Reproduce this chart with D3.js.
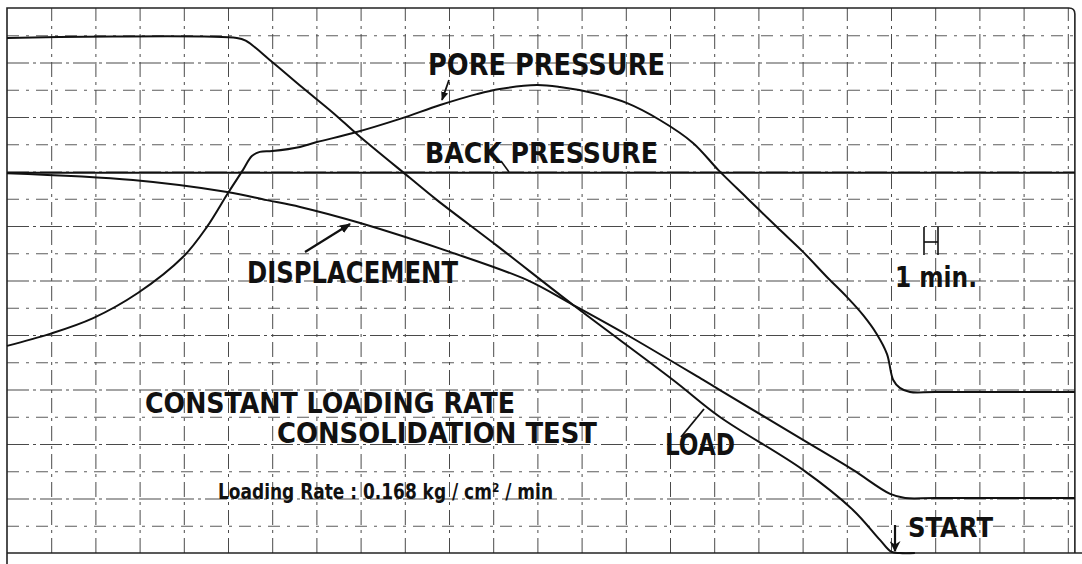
<!DOCTYPE html>
<html>
<head>
<meta charset="utf-8">
<script src="https://cdn.jsdelivr.net/npm/d3@7"></script>
<style>
  html, body { margin: 0; padding: 0; background: #fff; }
  svg { display: block; }
</style>
</head>
<body>
<svg id="chart" width="1082" height="564"></svg>
<script>
// Chart-paper divisions: x = horizontal division (0 = left edge), y = vertical division (0 = bottom edge)
const gridXTicks = d3.range(0, 25);
const gridYTicks = d3.range(0, 21);

const loadData = [
  [0, 18.90], [5.20, 18.90], [5.40, 18.80], [6.00, 18.02], [6.67, 17.10], [7.38, 16.15], [7.94, 15.34],
  [9.12, 13.76], [9.73, 12.95], [11.09, 11.27], [12.81, 9.10], [15.07, 6.35], [16.13, 4.99],
  [18.01, 3.05], [19.14, 1.58], [19.75, 0.48], [20.00, 0.05], [20.20, 0], [20.54, 0]
];

const displacementData = [
  [0, 13.94], [2.85, 13.69], [4.98, 13.25], [5.88, 12.95], [6.63, 12.70], [7.99, 12.11],
  [10.02, 11.05], [11.76, 10.02], [12.81, 9.10], [14.03, 8.00], [15.75, 6.35], [16.13, 5.98],
  [18.01, 4.15], [19.14, 3.05], [19.98, 2.17], [20.32, 2.02], [21.00, 2.02], [24.16, 2.02]
];

const porePressureData = [
  [0, 7.60], [0.97, 8.04], [1.95, 8.62], [2.96, 9.54], [3.98, 10.86], [4.52, 11.96],
  [5.00, 13.21], [5.34, 14.06], [5.54, 14.57], [5.72, 14.72], [6.00, 14.75], [6.63, 14.90],
  [7.01, 15.08], [7.83, 15.41], [8.89, 15.93], [9.80, 16.44], [10.63, 16.84], [11.15, 17.03],
  [11.99, 17.17], [12.51, 17.10], [13.26, 16.88], [14.03, 16.51], [14.77, 15.89], [15.52, 15.05],
  [16.09, 14.06], [16.74, 13.03], [17.42, 11.96], [18.01, 11.05], [18.55, 10.13], [19.00, 9.40],
  [19.37, 8.73], [19.68, 8.03], [19.91, 7.30], [20.05, 6.35], [20.20, 6.06], [20.43, 5.91],
  [21.00, 5.91], [24.16, 5.91]
];

const backPressureData = [[0, 13.95], [24.16, 13.95]];

const seriesNames = ["LOAD", "DISPLACEMENT", "PORE PRESSURE", "BACK PRESSURE"];

const svg = d3.select("#chart");
const pLeft = 7, pTop = 8, pRight = 1075, pBottom = 553;

const x = d3.scaleLinear().domain([0, 24]).range([pLeft, pLeft + 44.2 * 24]);
const y = d3.scaleLinear().domain([0, 20]).range([pBottom, pTop]);

// grid
const gV = svg.append("g").attr("transform", `translate(0,${pBottom})`)
  .call(d3.axisBottom(x).tickValues(gridXTicks.slice(1)).tickSize(-(pBottom - pTop)).tickFormat(""));
gV.select(".domain").remove();
gV.selectAll(".tick line")
  .attr("stroke", "#4a4a4a").attr("stroke-width", 1)
  .attr("stroke-dasharray", "15,5,3,5");

const gH = svg.append("g").attr("transform", `translate(${pLeft},0)`)
  .call(d3.axisLeft(y).tickValues(gridYTicks.slice(1, -1)).tickSize(-(pRight - pLeft)).tickFormat(""));
gH.select(".domain").remove();
gH.selectAll(".tick line")
  .attr("stroke", "#4a4a4a").attr("stroke-width", d => (d % 2 === 0 ? 1.2 : 0.9))
  .attr("stroke-dasharray", d => (d % 2 === 0 ? "22,4,3,4" : "12,7,3,7"));

// border
const bx = x(24.16);
svg.append("path")
  .attr("d", `M${pLeft},564 L${pLeft},${pTop} L${bx - 6},${pTop} Q${bx},${pTop} ${bx},${pTop + 6} L${bx},${pBottom}`)
  .attr("fill", "none").attr("stroke", "#222").attr("stroke-width", 1.6);
svg.append("line").attr("x1", pLeft).attr("x2", 1082).attr("y1", pBottom).attr("y2", pBottom)
  .attr("stroke", "#222").attr("stroke-width", 1.6);

// curves
const line = d3.line().x(d => x(d[0])).y(d => y(d[1])).curve(d3.curveCatmullRom.alpha(0.5));
[loadData, displacementData, porePressureData, backPressureData].forEach((data, i) => {
  svg.append("path").datum(data)
    .attr("class", "series")
    .attr("data-name", seriesNames[i])
    .attr("d", line)
    .attr("fill", "none")
    .attr("stroke", "#111")
    .attr("stroke-width", 2)
    .attr("stroke-linejoin", "round");
});

// labels
const font = "'DejaVu Sans Condensed', 'DejaVu Sans', sans-serif";
function label(txt, px, py, size, len, weight) {
  return svg.append("text")
    .attr("x", px).attr("y", py)
    .attr("font-family", font)
    .attr("font-size", size)
    .attr("font-weight", weight || "bold")
    .attr("fill", "#111")
    .attr("textLength", len)
    .attr("lengthAdjust", "spacingAndGlyphs")
    .text(txt);
}
label("PORE PRESSURE", 428, 75, 30, 237);
label("BACK PRESSURE", 425, 163, 29, 233);
label("DISPLACEMENT", 247, 283, 30, 211);
label("1 min.", 895, 287, 29, 82);
label("CONSTANT LOADING RATE", 145, 413, 29, 370);
label("CONSOLIDATION TEST", 277, 443, 29, 320);
label("LOAD", 665, 455, 30, 70);
label("START", 908, 537, 27, 85);
label("Loading Rate : 0.168 kg / cm² / min", 218, 499, 22, 335, "bold");

// leaders and arrows
const defs = svg.append("defs");
defs.append("marker")
  .attr("id", "ah").attr("viewBox", "0 0 10 10").attr("refX", 9).attr("refY", 5)
  .attr("markerWidth", 5).attr("markerHeight", 5).attr("orient", "auto")
  .append("path").attr("d", "M0,1 L10,5 L0,9 Z").attr("fill", "#111");
defs.append("marker")
  .attr("id", "ahBig").attr("viewBox", "0 0 10 10").attr("refX", 9).attr("refY", 5)
  .attr("markerWidth", 5).attr("markerHeight", 5).attr("orient", "auto")
  .append("path").attr("d", "M0,0 L10,5 L0,10 L3,5 Z").attr("fill", "#111");

function leader(x1, y1, x2, y2, arrow, w) {
  const l = svg.append("line")
    .attr("x1", x1).attr("y1", y1).attr("x2", x2).attr("y2", y2)
    .attr("stroke", "#111").attr("stroke-width", w || 1.8);
  if (arrow) l.attr("marker-end", `url(#${arrow})`);
}
leader(449, 80, 442, 100, "ah");
leader(501, 161, 509, 172, null, 1.6);
leader(305, 252, 350, 224, "ah", 2.2);
leader(681, 437, 704, 409, null, 1.8);
leader(895, 525, 895, 551, "ahBig", 2.2);

// 1 min scale bar (H)
[[924, 227, 924, 255], [938, 227, 938, 255], [924, 242, 938, 242]].forEach(s => {
  svg.append("line").attr("x1", s[0]).attr("y1", s[1]).attr("x2", s[2]).attr("y2", s[3])
    .attr("stroke", "#111").attr("stroke-width", 1.6);
});
</script>
</body>
</html>
